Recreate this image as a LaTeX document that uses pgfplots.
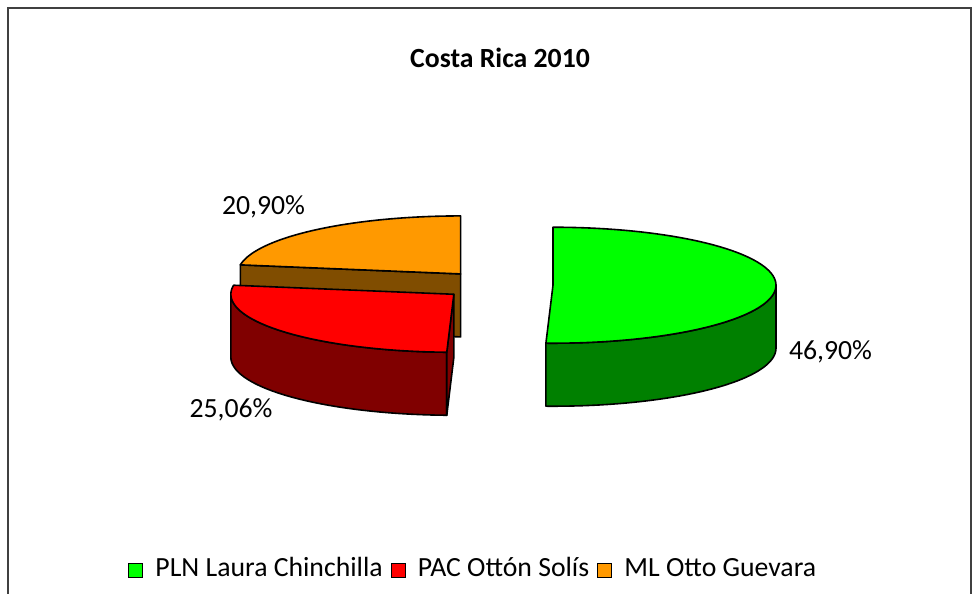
\documentclass[border=0pt]{standalone}
\usepackage{fontspec}
\setmainfont{Carlito}
\usepackage{pgfplots}
\pgfplotsset{compat=1.18}

\definecolor{plnTop}{RGB}{0,255,0}
\definecolor{plnSide}{RGB}{0,128,0}
\definecolor{pacTop}{RGB}{255,0,0}
\definecolor{pacSide}{RGB}{128,0,0}
\definecolor{mlTop}{RGB}{255,153,0}
\definecolor{mlSide}{RGB}{128,77,0}
\definecolor{frame}{RGB}{64,64,64}

% data (percent of valid votes)
\def\vPLN{46.90}
\def\vPAC{25.06}
\def\vML{20.90}

% geometry (px units, y up)
\def\Cx{497}\def\Cy{309}\def\rx{223}\def\ry{58}\def\D{63}\def\dd{56}

\pgfmathsetmacro\Tot{\vPLN+\vPAC+\vML}
\pgfmathsetmacro\aB{90+360*\vML/\Tot}
\pgfmathsetmacro\aC{\aB+360*\vPAC/\Tot}
\pgfmathsetmacro\aD{\aC-360}
\pgfmathsetmacro\mML{(90+\aB)/2}
\pgfmathsetmacro\mPAC{(\aB+\aC)/2}
\pgfmathsetmacro\mPLN{(\aD+90)/2}
\pgfmathsetmacro\cxML{\Cx+\dd*cos(\mML)}
\pgfmathsetmacro\cyML{\Cy+\dd*\ry/\rx*sin(\mML)}
\pgfmathsetmacro\cxPAC{\Cx+\dd*cos(\mPAC)}
\pgfmathsetmacro\cyPAC{\Cy+\dd*\ry/\rx*sin(\mPAC)}
\pgfmathsetmacro\cxPLN{\Cx+\dd*cos(\mPLN)}
\pgfmathsetmacro\cyPLN{\Cy+\dd*\ry/\rx*sin(\mPLN)}
% cut faces
\pgfmathsetmacro\exML{\cxML+\rx*cos(\aB)}
\pgfmathsetmacro\eyML{\cyML+\ry*sin(\aB)}
\pgfmathsetmacro\eyMLb{\eyML-\D}
\pgfmathsetmacro\cyMLb{\cyML-\D}
\pgfmathsetmacro\exPAC{\cxPAC+\rx*cos(\aC)}
\pgfmathsetmacro\eyPAC{\cyPAC+\ry*sin(\aC)}
\pgfmathsetmacro\eyPACb{\eyPAC-\D}
\pgfmathsetmacro\cyPACb{\cyPAC-\D}

\newcommand\topface[5]{%
  \addplot[fill=#5, draw=black, line width=1.2pt, line join=round, domain=#3:#4, samples=80, forget plot]
    ({#1+\rx*cos(x)},{#2+\ry*sin(x)}) -- (#1,#2) -- cycle;}
\newcommand\sideface[5]{%
  \addplot[fill=#5, draw=black, line width=1.2pt, line join=round, domain=0:3, samples=121, variable=\t, forget plot]
    ({#1+\rx*cos(#3+min(\t,1,3-\t)*(#4-#3))},
     {#2+\ry*sin(#3+min(\t,1,3-\t)*(#4-#3))-\D*max(0,min(1,\t-1))}) -- cycle;}

\begin{document}
\begin{tikzpicture}
\begin{axis}[
  scale only axis, width=735pt, height=445.5pt,
  xmin=0, xmax=980, ymin=0, ymax=594,
  hide axis, clip=false,
  legend columns=3,
  legend style={draw=none, fill=none, inner sep=0pt, at={(axis cs:128,23)}, anchor=west,
    font=\fontsize{20.8}{25}\selectfont,
    nodes={inner sep=0pt, text height=0.75em, text depth=0.2em},
    column sep=9pt,
    /tikz/every even column/.append style={column sep=6pt}},
]
\path (axis cs:0,0) rectangle (axis cs:980,594);
\draw[frame, line width=1.5pt] (axis cs:8,0) -- (axis cs:8,586) -- (axis cs:971,586) -- (axis cs:971,0);

% ML (orange), back
\addplot[fill=mlSide, draw=black, line width=1.2pt, line join=round, forget plot]
  coordinates {(\cxML,\cyML) (\exML,\eyML) (\exML,\eyMLb) (\cxML,\cyMLb)} -- cycle;
\topface{\cxML}{\cyML}{90}{\aB}{mlTop}
% PAC (red)
\sideface{\cxPAC}{\cyPAC}{180}{\aC}{pacSide}
\addplot[fill=pacSide, draw=black, line width=1.2pt, line join=round, forget plot]
  coordinates {(\cxPAC,\cyPAC) (\exPAC,\eyPAC) (\exPAC,\eyPACb) (\cxPAC,\cyPACb)} -- cycle;
\topface{\cxPAC}{\cyPAC}{\aB}{\aC}{pacTop}
% PLN (green)
\sideface{\cxPLN}{\cyPLN}{\aD}{0}{plnSide}
\topface{\cxPLN}{\cyPLN}{\aD}{90}{plnTop}

\addlegendimage{legend image code/.code={\draw[fill=plnTop, draw=black, line width=0.9pt] (0pt,-3pt) rectangle (10.5pt,7.5pt);}}
\addlegendentry{PLN Laura Chinchilla}
\addlegendimage{legend image code/.code={\draw[fill=pacTop, draw=black, line width=0.9pt] (0pt,-3pt) rectangle (10.5pt,7.5pt);}}
\addlegendentry{PAC Ottón Solís}
\addlegendimage{legend image code/.code={\draw[fill=mlTop, draw=black, line width=0.9pt] (0pt,-3pt) rectangle (10.5pt,7.5pt);}}
\addlegendentry{ML Otto Guevara}

\node[anchor=base, font=\fontsize{20.8}{25}\selectfont\bfseries] at (axis cs:500,526) {Costa Rica 2010};
\node[anchor=base, font=\fontsize{20.8}{25}\selectfont] at (axis cs:263.5,379) {20,90\%};
\node[anchor=base, font=\fontsize{20.8}{25}\selectfont] at (axis cs:830.5,234) {46,90\%};
\node[anchor=base, font=\fontsize{20.8}{25}\selectfont] at (axis cs:231,176) {25,06\%};
\end{axis}
\end{tikzpicture}
\end{document}
